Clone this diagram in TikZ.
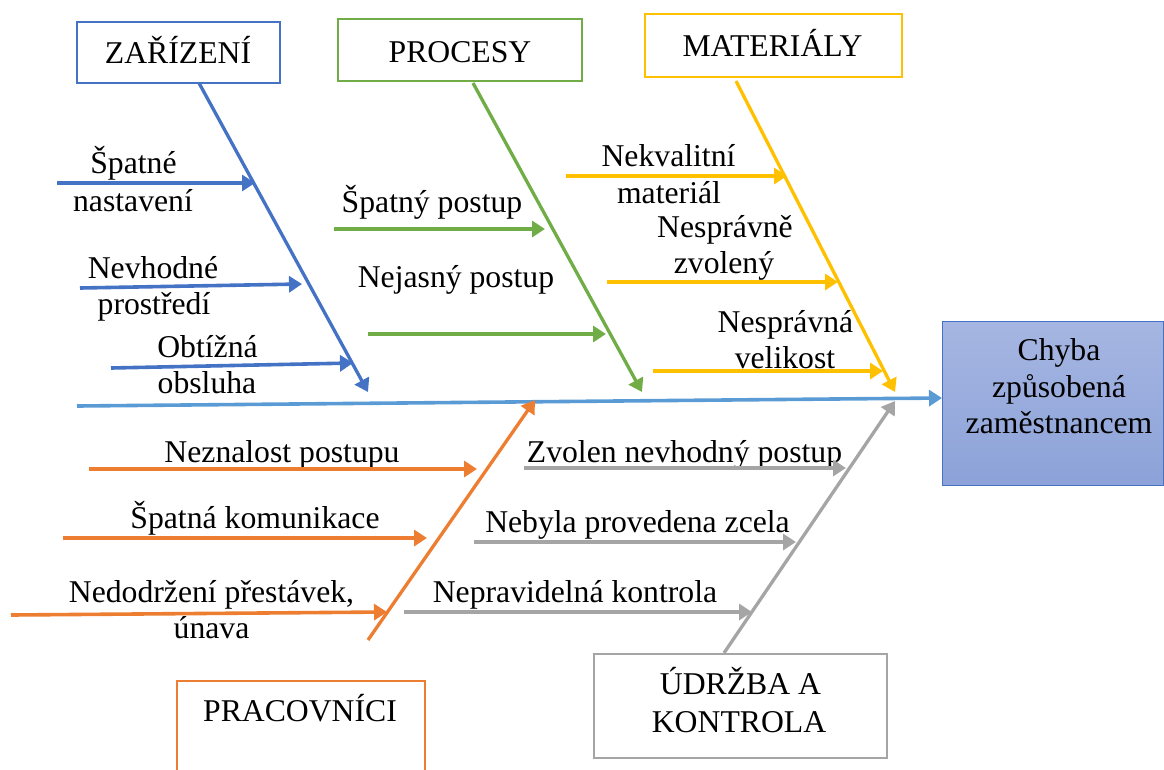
\documentclass[tikz,border=0pt]{standalone}
\usepackage{fontspec}
\setmainfont{Liberation Serif}
\usetikzlibrary{arrows.meta}
\definecolor{cblue}{HTML}{4472C4}
\definecolor{cgreen}{HTML}{70AD47}
\definecolor{cyellow}{HTML}{FFC000}
\definecolor{corange}{HTML}{ED7D31}
\definecolor{cgray}{HTML}{A5A5A5}
\definecolor{cspine}{HTML}{5B9BD5}
\definecolor{efftop}{RGB}{166,182,226}
\definecolor{effbot}{RGB}{140,162,216}
\begin{document}
\begin{tikzpicture}[x=1pt,y=-1pt,
  lbl/.style={anchor=base, inner sep=0pt, font=\fontsize{31.7}{36.5}\selectfont},
  catbox/.style={draw=#1, line width=2pt, fill=white, inner sep=0pt},
  bone/.style={draw=#1, line width=3.3pt, -{Triangle[length=13pt,width=16pt]}},
  twig/.style={draw=#1, line width=3.6pt, -{Triangle[length=13pt,width=16pt]}},
]
\useasboundingbox (0,0) rectangle (1164,769);
\clip (0,0) rectangle (1164,769);

% category boxes
\node[catbox=cblue, minimum width=203pt, minimum height=61pt] (zar) at (178.5,52.5) {};
\node[catbox=cgreen, minimum width=244pt, minimum height=62pt] (pro) at (460,50) {};
\node[catbox=cyellow, minimum width=257pt, minimum height=63pt] (mat) at (773.5,45.5) {};
\node[catbox=corange, minimum width=248pt, minimum height=119pt] (pra) at (301,740.5) {};
\node[catbox=cgray, minimum width=293pt, minimum height=104pt] (udr) at (740.5,706) {};

% effect box
\node[draw=cblue, line width=1pt, top color=efftop, bottom color=effbot,
      minimum width=221pt, minimum height=164pt, inner sep=0pt] (eff) at (1052.5,403) {};

% box captions
\node[lbl] (tzar) at (178,63) {ZAŘÍZENÍ};
\node[lbl] (tpro) at (460,62) {PROCESY};
\node[lbl] (tmat) at (772.5,56) {MATERIÁLY};
\node[lbl] (tpra) at (300,721) {PRACOVNÍCI};
\node[lbl] (tudr1) at (740.5,694) {ÚDRŽBA A};
\node[lbl] (tudr2) at (739,732) {KONTROLA};
\node[lbl] (teff1) at (1059,360) {Chyba};
\node[lbl] (teff2) at (1059,397) {způsobená};
\node[lbl] (teff3) at (1059,433) {zaměstnancem};

% cause labels
\node[lbl] (z1a) at (133.5,173) {Špatné};
\node[lbl] (z1b) at (133,211) {nastavení};
\node[lbl] (z2a) at (153,278) {Nevhodné};
\node[lbl] (z2b) at (154,314) {prostředí};
\node[lbl] (z3a) at (207.5,357) {Obtížná};
\node[lbl] (z3b) at (207,393) {obsluha};
\node[lbl] (p1) at (432,212) {Špatný postup};
\node[lbl] (p2) at (456,287) {Nejasný postup};
\node[lbl] (m1a) at (668.5,166) {Nekvalitní};
\node[lbl] (m1b) at (669,203) {materiál};
\node[lbl] (m2a) at (725,237) {Nesprávně};
\node[lbl] (m2b) at (724,273) {zvolený};
\node[lbl] (m3a) at (785.5,332) {Nesprávná};
\node[lbl] (m3b) at (785,368) {velikost};
\node[lbl] (w1) at (282,462) {Neznalost postupu};
\node[lbl] (w2) at (255,528) {Špatná komunikace};
\node[lbl] (w3a) at (211.5,602) {Nedodržení přestávek,};
\node[lbl] (w3b) at (211.5,638) {únava};
\node[lbl] (u1) at (684.5,462) {Zvolen nevhodný postup};
\node[lbl] (u2) at (637.5,532) {Nebyla provedena zcela};
\node[lbl] (u3) at (575,602) {Nepravidelná kontrola};

% spine
\coordinate (spL) at (77,406);
\coordinate (spR) at (942,398);
\draw[twig=cspine] (spL) -- (spR);

% bone ends
\coordinate (bz0) at (199,83);   \coordinate (bz1) at (368,392);
\coordinate (bp0) at (473,83);   \coordinate (bp1) at (642,392);
\coordinate (bm0) at (736,81);   \coordinate (bm1) at (895,392);
\coordinate (bw0) at (368,640);  \coordinate (bw1) at (535,400);
\coordinate (bu0) at (724,653);  \coordinate (bu1) at (895,401);
\draw[bone=cblue] (bz0) -- (bz1);
\draw[bone=cgreen] (bp0) -- (bp1);
\draw[bone=cyellow] (bm0) -- (bm1);
\draw[bone=corange] (bw0) -- (bw1);
\draw[bone=cgray] (bu0) -- (bu1);

% sub-cause arrows
\coordinate (az1s) at (57,183);  \coordinate (az1e) at (255,183);
\coordinate (az2s) at (80,288);  \coordinate (az2e) at (302,284);
\coordinate (az3s) at (111,368); \coordinate (az3e) at (353,363);
\draw[twig=cblue] (az1s) -- (az1e);
\draw[twig=cblue] (az2s) -- (az2e);
\draw[twig=cblue] (az3s) -- (az3e);

\coordinate (ap1s) at (334,229); \coordinate (ap1e) at (545,229);
\coordinate (ap2s) at (368,334); \coordinate (ap2e) at (606,334);
\draw[twig=cgreen] (ap1s) -- (ap1e);
\draw[twig=cgreen] (ap2s) -- (ap2e);

\coordinate (am1s) at (566,176); \coordinate (am1e) at (787,176);
\coordinate (am2s) at (607,282); \coordinate (am2e) at (838,282);
\coordinate (am3s) at (653,371); \coordinate (am3e) at (883,371);
\draw[twig=cyellow] (am1s) -- (am1e);
\draw[twig=cyellow] (am2s) -- (am2e);
\draw[twig=cyellow] (am3s) -- (am3e);

\coordinate (aw1s) at (89,469);  \coordinate (aw1e) at (477,469);
\coordinate (aw2s) at (63,538);  \coordinate (aw2e) at (427,538);
\coordinate (aw3s) at (11,615);  \coordinate (aw3e) at (387,612);
\draw[twig=corange] (aw1s) -- (aw1e);
\draw[twig=corange] (aw2s) -- (aw2e);
\draw[twig=corange] (aw3s) -- (aw3e);

\coordinate (au1s) at (524,468); \coordinate (au1e) at (846,468);
\coordinate (au2s) at (474,542); \coordinate (au2e) at (796,542);
\coordinate (au3s) at (404,612); \coordinate (au3e) at (752,612);
\draw[twig=cgray] (au1s) -- (au1e);
\draw[twig=cgray] (au2s) -- (au2e);
\draw[twig=cgray] (au3s) -- (au3e);
\end{tikzpicture}
\end{document}
